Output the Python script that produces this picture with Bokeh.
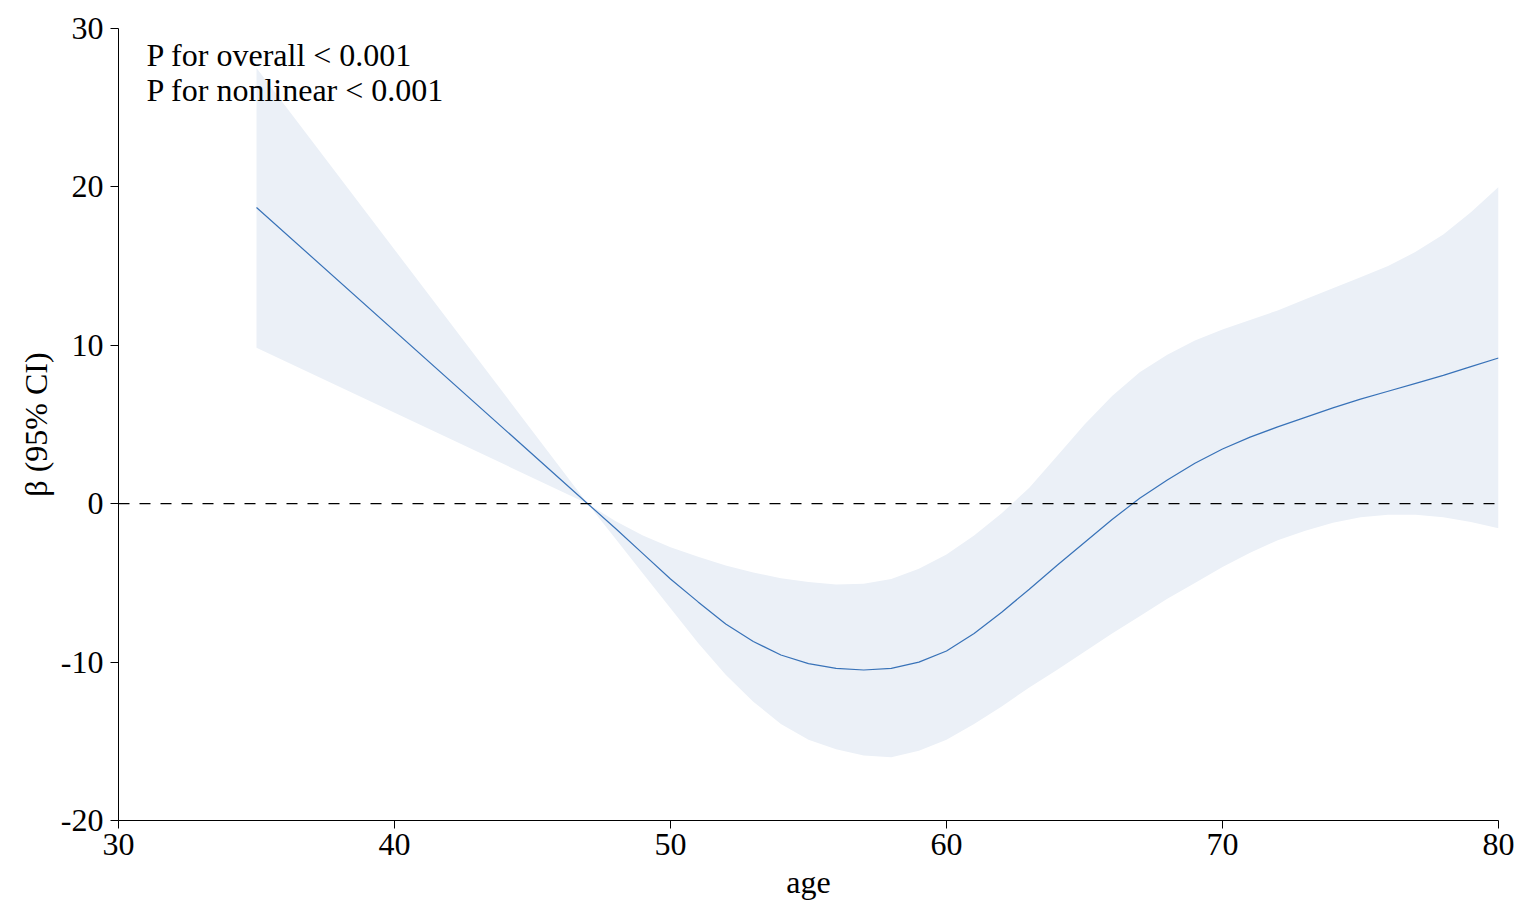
from bokeh.plotting import figure
from bokeh.models import Range1d, FixedTicker, Span, Label
from bokeh.embed import file_html
from bokeh.resources import INLINE

# ---- data ----
age = [35, 47, 48, 49, 50, 51, 52, 53, 54, 55, 56, 57, 58, 59, 60, 61, 62, 63,
       64, 65, 66, 67, 68, 69, 70, 71, 72, 73, 74, 75, 76, 77, 78, 79, 80]
beta = [18.7, 0.0, -1.55, -3.15, -4.75, -6.2, -7.6, -8.7, -9.55, -10.1, -10.4, -10.5,
        -10.4, -10.0, -9.3, -8.2, -6.85, -5.4, -3.9, -2.45, -1.0, 0.35, 1.5, 2.55,
        3.45, 4.2, 4.85, 5.45, 6.05, 6.6, 7.1, 7.6, 8.1, 8.65, 9.2]
upper = [27.5, 0.0, -1.1, -2.0, -2.75, -3.35, -3.9, -4.35, -4.7, -4.95, -5.1, -5.05,
         -4.75, -4.1, -3.2, -2.0, -0.6, 1.0, 3.0, 5.0, 6.8, 8.3, 9.4, 10.3,
         11.0, 11.6, 12.2, 12.9, 13.6, 14.3, 15.0, 15.9, 17.0, 18.4, 20.0]
lower = [9.85, 0.0, -2.2, -4.4, -6.6, -8.8, -10.8, -12.5, -13.9, -14.9, -15.5, -15.9,
         -16.0, -15.6, -14.9, -13.9, -12.8, -11.6, -10.5, -9.35, -8.2, -7.1, -6.0, -5.0,
         -4.0, -3.1, -2.3, -1.7, -1.2, -0.85, -0.7, -0.7, -0.85, -1.15, -1.55]

x_ticks = [30, 40, 50, 60, 70, 80]
y_ticks = [-20, -10, 0, 10, 20, 30]
y_tick_labels = ["-20", "-10", "0", "10", "20", "30"]
annotations = ["P for overall < 0.001", "P for nonlinear < 0.001"]

FONT = "Liberation Serif"
FS = "32px"

p = figure(width=1528, height=902, output_backend="svg", toolbar_location=None,
           x_range=Range1d(30, 80), y_range=Range1d(-20, 30),
           min_border_left=118, min_border_right=30, min_border_top=28,
           min_border_bottom=82)
p.outline_line_color = None
p.background_fill_color = "white"
p.border_fill_color = "white"
p.xgrid.visible = False
p.ygrid.visible = False

p.varea(x=age, y1=lower, y2=upper, fill_color="#EBF0F7", fill_alpha=1.0)
p.line(age, beta, line_color="#3872B8", line_width=1.2)

p.add_layout(Span(location=0, dimension="width", line_color="black",
                  line_width=1.2, line_dash="11 10"))

for ax in (p.xaxis[0], p.yaxis[0]):
    ax.axis_line_color = "black"
    ax.axis_line_width = 1
    ax.major_tick_line_color = "black"
    ax.major_tick_out = 8
    ax.major_tick_in = 0
    ax.minor_tick_line_color = None
    ax.major_label_text_font = FONT
    ax.major_label_text_font_size = FS
    ax.major_label_text_color = "black"
    ax.axis_label_text_font = FONT
    ax.axis_label_text_font_size = FS
    ax.axis_label_text_font_style = "normal"
    ax.axis_label_text_color = "black"

p.xaxis.ticker = FixedTicker(ticks=x_ticks)
p.yaxis.ticker = FixedTicker(ticks=y_ticks)
p.yaxis.major_label_overrides = {t: s for t, s in zip(y_ticks, y_tick_labels)}
p.xaxis.axis_label = "age"
p.yaxis.axis_label = "β (95% CI)"
p.xaxis.major_label_standoff = 5
p.yaxis.major_label_standoff = 7
p.xaxis.axis_label_standoff = 6
p.yaxis.axis_label_standoff = 4

for i, t in enumerate(annotations):
    p.add_layout(Label(x=28, y=766 - 35 * i, x_units="screen", y_units="screen",
                       text=t, text_font=FONT, text_font_size=FS,
                       text_color="black", text_baseline="alphabetic",
                       text_align="left"))

open("out.html", "w").write(file_html(p, INLINE))
